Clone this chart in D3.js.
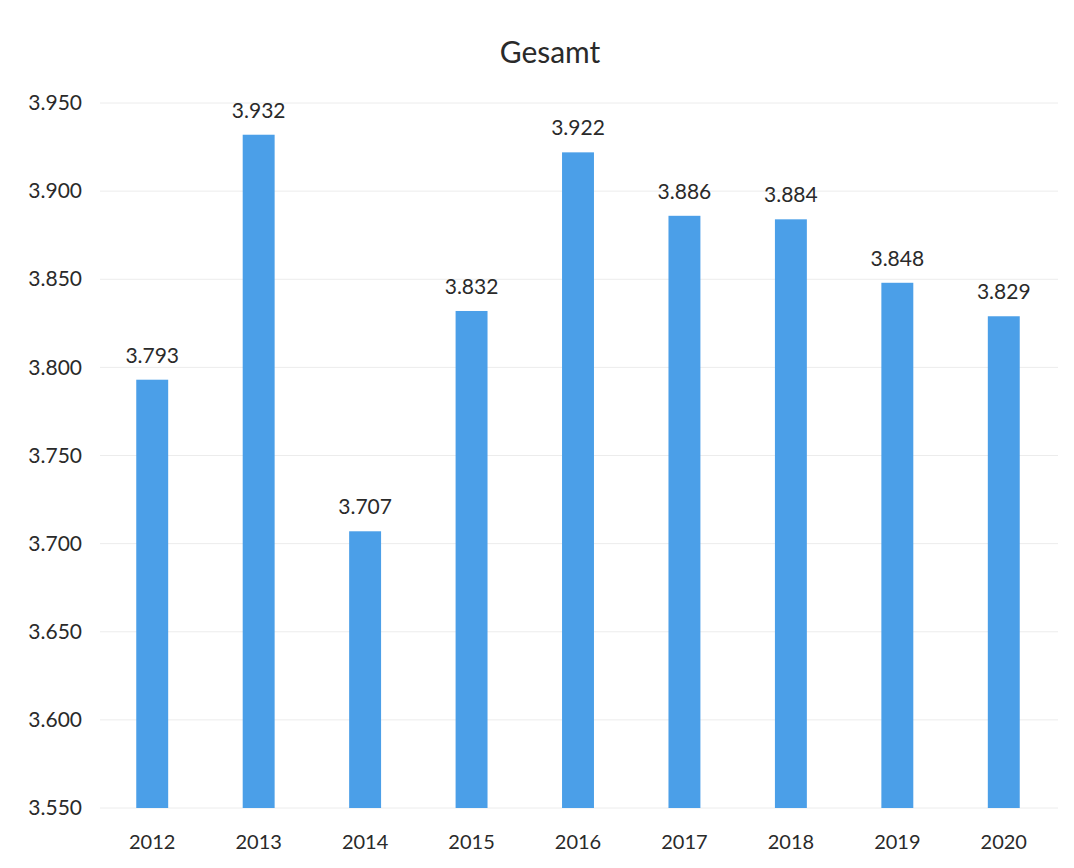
<!DOCTYPE html>
<html><head><meta charset="utf-8">
<script src="https://cdn.jsdelivr.net/npm/d3@7"></script>
<style>body{margin:0;background:#fff;} text{font-family:Lato,"Open Sans",sans-serif;}</style>
</head><body>
<svg id="chart" width="1074" height="868"></svg>
<script>
const years = ["2012","2013","2014","2015","2016","2017","2018","2019","2020"];
const values = [3793,3932,3707,3832,3922,3886,3884,3848,3829];
const yTicks = [3550,3600,3650,3700,3750,3800,3850,3900,3950];
const title = "Gesamt";

const loc = d3.formatLocale({decimal:",", thousands:".", grouping:[3], currency:["","€"]});
const fmt = loc.format(",d");

const svg = d3.select("#chart");
const x = d3.scaleBand().domain(years).range([99,1057]).paddingInner(0.70).paddingOuter(0.35);
const y = d3.scaleLinear().domain([3550,3950]).range([808,103]);

// gridlines
svg.append("g").selectAll("line").data(yTicks).join("line")
  .attr("x1",100).attr("x2",1058)
  .attr("y1",d=>y(d)).attr("y2",d=>y(d))
  .attr("stroke","#ececec").attr("stroke-width",1);

// y axis
const yAxis = d3.axisLeft(y).tickValues(yTicks).tickFormat(fmt).tickSize(0).tickPadding(0);
const gy = svg.append("g").attr("transform","translate(82,0)").call(yAxis);
gy.select(".domain").remove();
gy.selectAll("text").attr("font-size",21).attr("fill","#2a2a2a").attr("font-family","Lato, sans-serif");

// x axis
const xAxis = d3.axisBottom(x).tickSize(0).tickPadding(0);
const gx = svg.append("g").attr("transform","translate(0,835)").call(xAxis);
gx.select(".domain").remove();
gx.selectAll("text").attr("font-size",20).attr("fill","#2a2a2a").attr("font-family","Lato, sans-serif");

// bars
svg.append("g").selectAll("rect").data(values).join("rect")
  .attr("x",(d,i)=>x(years[i])).attr("width",x.bandwidth())
  .attr("y",d=>y(d)).attr("height",d=>y(3550)-y(d))
  .attr("fill","#4b9fe8");

// value labels
svg.append("g").selectAll("text").data(values).join("text")
  .attr("x",(d,i)=>x(years[i])+x.bandwidth()/2).attr("y",d=>y(d)-17)
  .attr("text-anchor","middle").attr("font-size",21).attr("fill","#2a2a2a")
  .text(d=>fmt(d));

// title
svg.append("text").attr("x",550).attr("y",63).attr("text-anchor","middle")
  .attr("font-size",30).attr("fill","#2a2a2a").text(title);
</script>
</body></html>
